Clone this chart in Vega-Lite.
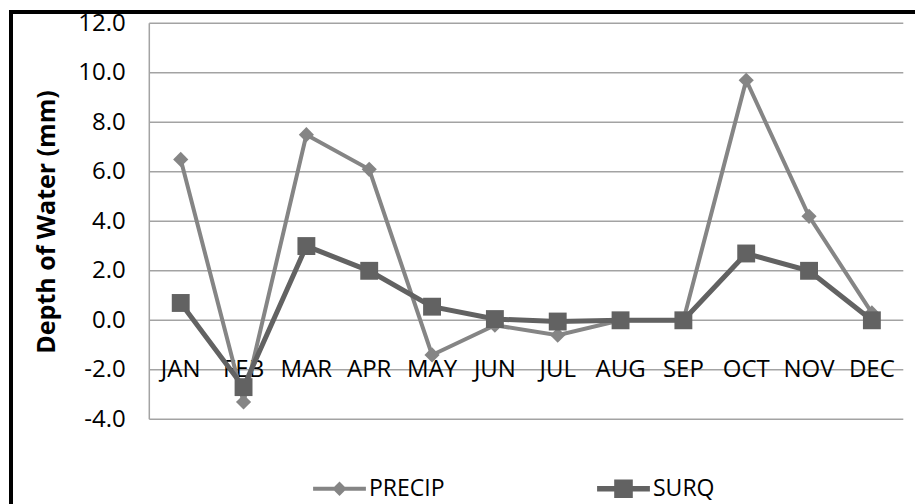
{
  "$schema": "https://vega.github.io/schema/vega-lite/v6.json",
  "width": 908,
  "height": 496,
  "autosize": {"type": "none"},
  "padding": {"left": 11, "top": 12, "right": -4, "bottom": -4},
  "background": "white",
  "config": {
    "view": {"stroke": "#000000", "strokeWidth": 4},
    "legend": {
      "symbolSize": 144,
      "labelFont": "Open Sans",
      "labelFontSize": 23,
      "labelColor": "#000000",
      "labelOffset": 18,
      "columnPadding": 152,
      "padding": 0,
      "symbolStrokeWidth": 0,
      "symbolOpacity": 1
    }
  },
  "datasets": {
    "series": [
      {"m": 1, "month": "JAN", "series": "PRECIP", "value": 6.5},
      {"m": 2, "month": "FEB", "series": "PRECIP", "value": -3.3},
      {"m": 3, "month": "MAR", "series": "PRECIP", "value": 7.5},
      {"m": 4, "month": "APR", "series": "PRECIP", "value": 6.1},
      {"m": 5, "month": "MAY", "series": "PRECIP", "value": -1.4},
      {"m": 6, "month": "JUN", "series": "PRECIP", "value": -0.2},
      {"m": 7, "month": "JUL", "series": "PRECIP", "value": -0.6},
      {"m": 8, "month": "AUG", "series": "PRECIP", "value": 0.0},
      {"m": 9, "month": "SEP", "series": "PRECIP", "value": 0.0},
      {"m": 10, "month": "OCT", "series": "PRECIP", "value": 9.7},
      {"m": 11, "month": "NOV", "series": "PRECIP", "value": 4.2},
      {"m": 12, "month": "DEC", "series": "PRECIP", "value": 0.3},
      {"m": 1, "month": "JAN", "series": "SURQ", "value": 0.7},
      {"m": 2, "month": "FEB", "series": "SURQ", "value": -2.7},
      {"m": 3, "month": "MAR", "series": "SURQ", "value": 3.0},
      {"m": 4, "month": "APR", "series": "SURQ", "value": 2.0},
      {"m": 5, "month": "MAY", "series": "SURQ", "value": 0.55},
      {"m": 6, "month": "JUN", "series": "SURQ", "value": 0.05},
      {"m": 7, "month": "JUL", "series": "SURQ", "value": -0.05},
      {"m": 8, "month": "AUG", "series": "SURQ", "value": 0.0},
      {"m": 9, "month": "SEP", "series": "SURQ", "value": 0.0},
      {"m": 10, "month": "OCT", "series": "SURQ", "value": 2.7},
      {"m": 11, "month": "NOV", "series": "SURQ", "value": 2.0},
      {"m": 12, "month": "DEC", "series": "SURQ", "value": 0.0}
    ],
    "grid": [
      {"level": -4, "from": 0.5, "to": 12.5}, {"level": -2, "from": 0.5, "to": 12.5},
      {"level": 0, "from": 0.5, "to": 12.5}, {"level": 2, "from": 0.5, "to": 12.5},
      {"level": 4, "from": 0.5, "to": 12.5}, {"level": 6, "from": 0.5, "to": 12.5},
      {"level": 8, "from": 0.5, "to": 12.5}, {"level": 10, "from": 0.5, "to": 12.5},
      {"level": 12, "from": 0.5, "to": 12.5}
    ],
    "edge": [
      {"at": 0.5, "low": -4, "high": 12}
    ],
    "months": [
      {"m": 1, "month": "JAN", "row": -2}, {"m": 2, "month": "FEB", "row": -2}, {"m": 3, "month": "MAR", "row": -2},
      {"m": 4, "month": "APR", "row": -2}, {"m": 5, "month": "MAY", "row": -2}, {"m": 6, "month": "JUN", "row": -2},
      {"m": 7, "month": "JUL", "row": -2}, {"m": 8, "month": "AUG", "row": -2}, {"m": 9, "month": "SEP", "row": -2},
      {"m": 10, "month": "OCT", "row": -2}, {"m": 11, "month": "NOV", "row": -2}, {"m": 12, "month": "DEC", "row": -2}
    ]
  },
  "layer": [
    {
      "data": {"name": "grid"},
      "mark": {"type": "rule", "color": "#a3a3a3", "strokeWidth": 1.5},
      "encoding": {
        "x": {"field": "from", "type": "quantitative", "scale": {"domain": [-1.7011, 12.75], "nice": false, "zero": false}, "axis": null},
        "x2": {"field": "to"},
        "y": {
          "field": "level",
          "type": "quantitative",
          "scale": {"domain": [-7.584, 12.457], "nice": false, "zero": false},
          "axis": {
            "values": [-4, -2, 0, 2, 4, 6, 8, 10, 12],
            "labelExpr": "replace(format(datum.value, '.1f'), '\u2212', '-')",
            "offset": -138.3,
            "domain": false,
            "ticks": false,
            "grid": false,
            "labelPadding": 24,
            "labelFont": "Open Sans",
            "labelFontSize": 24,
            "labelColor": "#000000",
            "title": "Depth of Water (mm)",
            "titleFont": "Open Sans",
            "titleFontWeight": "bold",
            "titleFontSize": 25,
            "titleColor": "#000000",
            "titlePadding": 18,
            "titleY": 209.5
          }
        }
      }
    },
    {
      "data": {"name": "edge"},
      "mark": {"type": "rule", "color": "#a3a3a3", "strokeWidth": 1.5},
      "encoding": {
        "x": {"field": "at", "type": "quantitative"},
        "y": {"field": "low", "type": "quantitative"},
        "y2": {"field": "high"}
      }
    },
    {
      "data": {"name": "months"},
      "mark": {"type": "text", "font": "Open Sans", "fontSize": 24, "color": "#000000", "align": "center", "baseline": "middle"},
      "encoding": {
        "x": {"field": "m", "type": "quantitative"},
        "y": {"field": "row", "type": "quantitative"},
        "text": {"field": "month"}
      }
    },
    {
      "data": {"name": "series"},
      "transform": [{"filter": "datum.series === 'PRECIP'"}],
      "mark": {"type": "line", "color": "#858585", "strokeWidth": 4},
      "encoding": {
        "x": {"field": "m", "type": "quantitative"},
        "y": {"field": "value", "type": "quantitative"}
      }
    },
    {
      "data": {"name": "series"},
      "transform": [{"filter": "datum.series === 'SURQ'"}],
      "mark": {"type": "line", "color": "#626262", "strokeWidth": 5},
      "encoding": {
        "x": {"field": "m", "type": "quantitative"},
        "y": {"field": "value", "type": "quantitative"}
      }
    },
    {
      "data": {"name": "series"},
      "transform": [{"filter": "datum.series === 'PRECIP'"}],
      "mark": {"type": "point", "shape": "diamond", "filled": true, "color": "#858585", "opacity": 1, "size": 230},
      "encoding": {
        "x": {"field": "m", "type": "quantitative"},
        "y": {"field": "value", "type": "quantitative"}
      }
    },
    {
      "data": {"name": "series"},
      "transform": [{"filter": "datum.series === 'SURQ'"}],
      "mark": {"type": "point", "shape": "square", "filled": true, "color": "#626262", "opacity": 1, "size": 320},
      "encoding": {
        "x": {"field": "m", "type": "quantitative"},
        "y": {"field": "value", "type": "quantitative"}
      }
    },
    {
      "data": {"name": "series"},
      "transform": [{"filter": "datum.m === 1"}],
      "mark": {"type": "point", "filled": true, "size": 0, "opacity": 1},
      "encoding": {
        "x": {"field": "m", "type": "quantitative"},
        "y": {"field": "value", "type": "quantitative"},
        "color": {
          "field": "series",
          "type": "nominal",
          "scale": {"domain": ["PRECIP", "SURQ"], "range": ["#858585", "#626262"]},
          "legend": {"orient": "none", "legendX": 317, "legendY": 465, "direction": "horizontal", "title": null}
        },
        "shape": {
          "field": "series",
          "type": "nominal",
          "scale": {
            "domain": ["PRECIP", "SURQ"],
            "range": [
              "M-4.4,-0.33H4.4V0.33H-4.4Z M0,-1.2L1.2,0L0,1.2L-1.2,0Z",
              "M-4.4,-0.45H4.4V0.45H-4.4Z M-1.55,-1.55H1.55V1.55H-1.55Z"
            ]
          },
          "legend": {"orient": "none", "legendX": 317, "legendY": 465, "direction": "horizontal", "title": null}
        }
      }
    }
  ]
}
